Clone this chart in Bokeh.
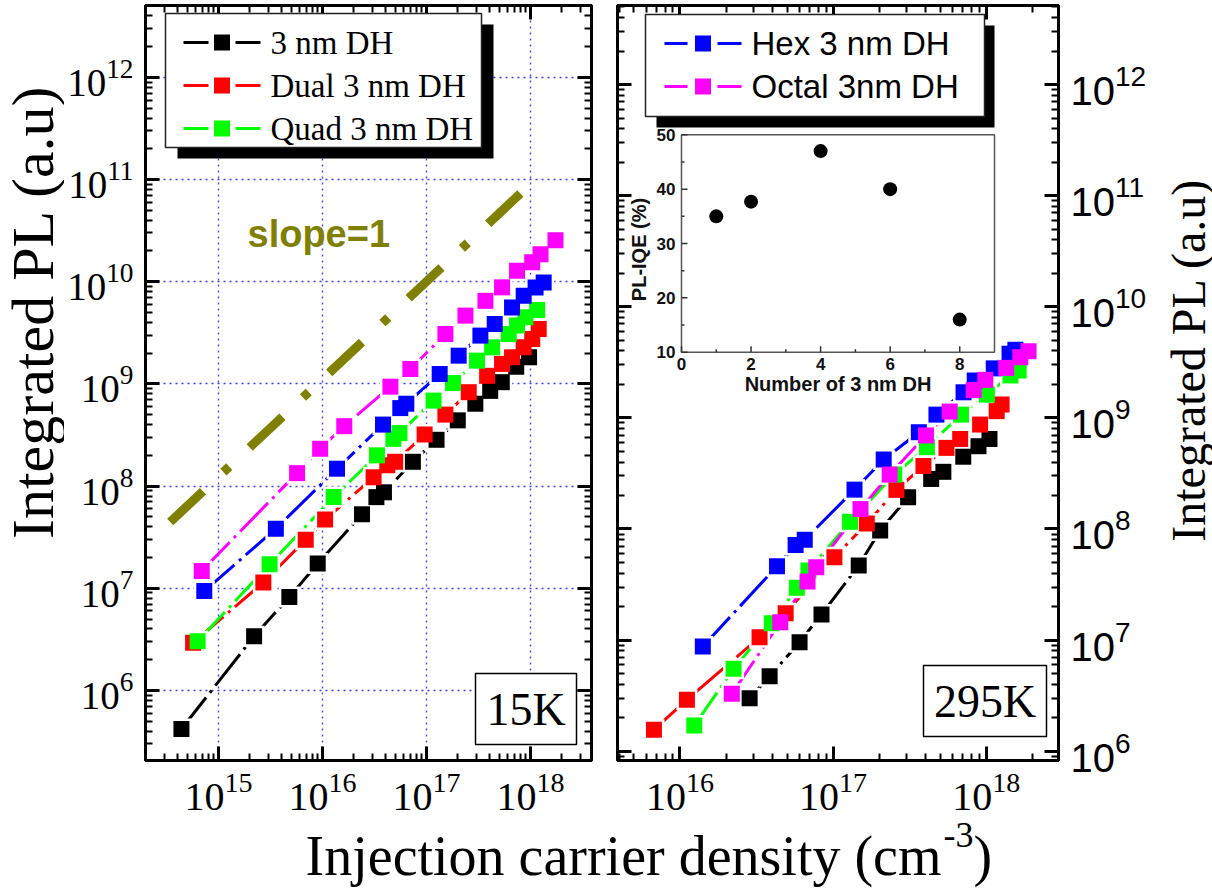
import numpy as np
from bokeh.plotting import figure
from bokeh.layouts import column, row
from bokeh.models import (Range1d, LogAxis, FixedTicker, BoxAnnotation, Label,
                          CustomJSTickFormatter, LinearScale)
from bokeh.core.properties import value
from bokeh.embed import file_html
from bokeh.resources import INLINE

SERIF = "Liberation Serif"
SANS = "Liberation Sans"

# ---------------- 15 K : injection carrier density (cm^-3) vs integrated PL (a.u.)
single_15k_n = [4.4e14, 2.2e15, 4.8e15, 9.0e15, 2.4e16, 3.3e16, 3.9e16, 7.4e16, 1.25e17,
                2.0e17, 2.95e17, 4.1e17, 5.3e17, 7.3e17, 9.7e17]
single_15k_pl = [4.2e5, 3.4e6, 8.2e6, 1.75e7, 5.3e7, 7.8e7, 8.7e7, 1.73e8, 2.84e8,
                 4.4e8, 6.4e8, 8.55e8, 1.04e9, 1.47e9, 1.82e9]

dual_15k_n = [5.7e14, 2.7e15, 6.9e15, 1.06e16, 3.1e16, 4.2e16, 5.0e16, 9.6e16, 1.52e17,
              2.55e17, 3.83e17, 5.33e17, 6.65e17, 8.6e17, 1.04e18, 1.2e18]
dual_15k_pl = [2.94e6, 1.14e7, 2.99e7, 4.7e7, 1.22e8, 1.6e8, 1.73e8, 3.2e8, 5.01e8,
               8.3e8, 1.2e9, 1.57e9, 1.82e9, 2.28e9, 2.75e9, 3.44e9]

quad_15k_n = [6.3e14, 3.1e15, 1.28e16, 3.34e16, 4.8e16, 5.5e16, 1.17e17, 1.8e17, 3.06e17,
              4.28e17, 6.18e17, 7.43e17, 8.95e17, 1.16e18]
quad_15k_pl = [3.03e6, 1.72e7, 7.82e7, 2.0e8, 2.9e8, 3.3e8, 6.87e8, 1.02e9, 1.69e9,
               2.28e9, 3.08e9, 3.72e9, 4.48e9, 5.28e9]

hex_15k_n = [7.3e14, 3.56e15, 1.38e16, 3.82e16, 5.6e16, 6.4e16, 1.34e17, 2.04e17, 3.3e17,
             4.53e17, 6.65e17, 8.61e17, 1.12e18, 1.34e18]
hex_15k_pl = [9.4e6, 3.83e7, 1.48e8, 4.0e8, 5.8e8, 6.4e8, 1.25e9, 1.89e9, 2.97e9,
              3.86e9, 5.6e9, 7.3e9, 8.8e9, 9.8e9]

octal_15k_n = [6.9e14, 5.7e15, 9.5e15, 1.62e16, 4.5e16, 7.0e16, 1.52e17, 2.37e17, 3.69e17,
               5.33e17, 7.43e17, 1.04e18, 1.25e18, 1.74e18]
octal_15k_pl = [1.48e7, 1.34e8, 2.32e8, 3.86e8, 9.4e8, 1.4e9, 3.08e9, 4.66e9, 6.5e9,
                8.81e9, 1.28e10, 1.55e10, 1.86e10, 2.55e10]

# slope = 1 guide line
slope_n = [3.43e14, 8.0e17]
slope_pl = [4.45e7, 7.3e10]

# ---------------- 295 K
single_295k_n = [2.85e16, 3.85e16, 6.04e16, 8.4e16, 1.47e17, 2.03e17, 3.09e17, 4.37e17,
                 5.25e17, 7.08e17, 8.9e17, 1.05e18]
single_295k_pl = [3.0e6, 4.73e6, 9.57e6, 1.7e7, 4.69e7, 9.7e7, 1.93e8, 2.82e8,
                  3.27e8, 4.47e8, 5.56e8, 6.46e8]

dual_295k_n = [6.76e15, 1.11e16, 3.31e16, 4.9e16, 1.02e17, 1.66e17, 2.59e17, 3.89e17,
               5.5e17, 6.76e17, 9.12e17, 1.17e18, 1.26e18]
dual_295k_pl = [1.56e6, 2.9e6, 1.06e7, 1.74e7, 5.56e7, 1.12e8, 2.25e8, 3.69e8,
                5.37e8, 6.46e8, 8.71e8, 1.15e9, 1.32e9]

quad_295k_n = [1.24e16, 2.24e16, 3.98e16, 5.8e16, 6.9e16, 1.29e17, 2.51e17, 4.1e17,
               6.84e17, 1.01e18, 1.44e18, 1.63e18]
quad_295k_pl = [1.7e6, 5.52e6, 1.42e7, 2.96e7, 4.24e7, 1.16e8, 3.09e8, 5.45e8,
                1.07e9, 1.62e9, 2.41e9, 2.67e9]

hex_295k_n = [1.41e16, 4.3e16, 5.69e16, 6.53e16, 1.38e17, 2.14e17, 3.63e17, 4.73e17,
              7.11e17, 8.41e17, 1.12e18, 1.42e18, 1.55e18]
hex_295k_pl = [8.75e6, 4.62e7, 7.19e7, 8.0e7, 2.26e8, 4.22e8, 7.43e8, 1.07e9,
               1.7e9, 2.17e9, 2.79e9, 3.78e9, 4.1e9]

octal_295k_n = [2.18e16, 4.52e16, 6.81e16, 7.76e16, 1.51e17, 2.34e17, 4.04e17, 5.77e17,
                8.28e17, 9.86e17, 1.35e18, 1.67e18, 1.89e18]
octal_295k_pl = [3.28e6, 1.45e7, 3.37e7, 4.53e7, 1.51e8, 3.09e8, 6.95e8, 1.14e9,
                 1.78e9, 2.2e9, 2.82e9, 3.52e9, 3.98e9]

# ---------------- inset: PL internal quantum efficiency vs number of DH layers
dh_count = [1, 2, 4, 6, 8]
pl_iqe = [35.0, 37.7, 47.0, 40.0, 16.0]
inset_xticks = [0, 2, 4, 6, 8]
inset_xminor = [1, 3, 5, 7]
inset_yticks = [10, 20, 30, 40, 50]
inset_yminor = [15, 25, 35, 45]

Y_TITLE = "Integrated PL (a.u)"

BLACK, RED, GREEN, BLUE, MAGENTA = "#000000", "#ff0000", "#00ff00", "#0000ff", "#ff00ff"
OLIVE = "#808000"

FRAME_H = 755
TOP, BOTTOM = 5, 118
ROW_H = TOP + FRAME_H + BOTTOM


def decade_ticks(lo, hi):
    major = [10.0 ** e for e in range(lo, hi + 1)]
    minor = [m * 10.0 ** e for e in range(lo - 1, hi + 1) for m in range(2, 10)]
    return major, minor


def dress(ax, major, minor, show=True, font=SERIF, size="34px", standoff=12):
    ax.ticker = FixedTicker(ticks=major, minor_ticks=minor)
    ax.axis_line_width = 3
    ax.axis_line_color = "black"
    ax.major_tick_in = 14
    ax.major_tick_out = 0
    ax.minor_tick_in = 7
    ax.minor_tick_out = 0
    ax.major_tick_line_width = 3
    ax.minor_tick_line_width = 2
    if show:
        ax.major_label_text_font = font
        ax.major_label_text_font_size = size
        ax.major_label_text_color = "black"
        ax.major_label_standoff = standoff
    else:
        ax.formatter = CustomJSTickFormatter(code="return ''")
        ax.major_label_text_font_size = "1px"
        ax.major_label_standoff = 0


def panel(xr, yr, xdec, ydec, frame_w, border_l, border_r, y_side, y_font, y_size):
    p = figure(x_axis_type="log", y_axis_type="log",
               x_range=Range1d(*xr), y_range=Range1d(*yr),
               frame_width=frame_w, frame_height=FRAME_H,
               min_border_left=border_l, min_border_right=border_r,
               min_border_top=TOP, min_border_bottom=BOTTOM,
               y_axis_location=y_side, output_backend="svg", toolbar_location=None)
    p.background_fill_color = "white"
    p.border_fill_color = "white"
    p.outline_line_color = "black"
    p.outline_line_width = 3
    xmaj, xmin = decade_ticks(*xdec)
    ymaj, ymin = decade_ticks(*ydec)
    dress(p.xaxis[0], xmaj, xmin, size="40px", standoff=12)
    dress(p.yaxis[0], ymaj, ymin, font=y_font, size=y_size, standoff=12)
    p.add_layout(LogAxis(), "above")
    dress(p.above[0], xmaj, xmin, show=False)
    other = "right" if y_side == "left" else "left"
    p.add_layout(LogAxis(), other)
    dress(getattr(p, other)[0], ymaj, ymin, show=False)
    p.xgrid.ticker = FixedTicker(ticks=xmaj)
    p.ygrid.ticker = FixedTicker(ticks=ymaj)
    return p


def title_strip(width, cx, cy, size):
    """Narrow blank figure that carries a rotated y-axis title."""
    f = figure(width=width, height=ROW_H, x_range=Range1d(0, width), y_range=Range1d(0, ROW_H),
               x_axis_location=None, y_axis_location=None, min_border=0,
               output_backend="svg", toolbar_location=None)
    f.outline_line_color = None
    f.grid.visible = False
    f.text(x=[cx], y=[ROW_H - cy], text=[Y_TITLE], angle=np.pi / 2, text_align="center",
           text_baseline="middle", text_font=value(SERIF), text_font_size=size,
           text_color="black")
    return f


def draw_series(p, series):
    for n, pl, color in series:
        p.line(n, pl, line_color=color, line_width=3, line_dash="40 6 3 6")
    for n, pl, color in series:
        p.scatter(n, pl, marker="square", size=21, fill_color="white", line_color=None)
    for n, pl, color in series:
        p.scatter(n, pl, marker="square", size=16, fill_color=color, line_color=None)


def sbox(p, l, r, t, b, fill, line=None, lw=1.5):
    p.add_layout(BoxAnnotation(left=l, right=r, top=t, bottom=b,
                               left_units="screen", right_units="screen",
                               top_units="screen", bottom_units="screen",
                               fill_color=fill, fill_alpha=1.0,
                               line_color=line, line_width=lw, line_alpha=1.0))


def legend(p, box, shadow, rows, seg_a, seg_b, mark_c, text_x, font, size):
    sbox(p, *shadow, fill="black")
    sbox(p, *box, fill="white", line="#222222", lw=1.5)
    for y, color, text in rows:
        sbox(p, seg_a[0], seg_a[1], y + 1.5, y - 1.5, fill=color)
        sbox(p, seg_b[0], seg_b[1], y + 1.5, y - 1.5, fill=color)
        sbox(p, mark_c - 8, mark_c + 8, y + 8, y - 8, fill=color)
        p.add_layout(Label(x=text_x, y=y, x_units="screen", y_units="screen", text=text,
                           text_font=font, text_font_size=size, text_baseline="middle",
                           text_color="black"))


def temp_box(p, l, r, t, b, text):
    sbox(p, l, r, t, b, fill="white", line="black", lw=1.5)
    p.add_layout(Label(x=(l + r) / 2, y=(t + b) / 2, x_units="screen", y_units="screen",
                       text=text, text_font=SERIF, text_font_size="46px",
                       text_align="center", text_baseline="middle", text_color="black"))


# ================= 15 K panel
left = panel((10 ** 14.298, 10 ** 18.587), (10 ** 5.315, 10 ** 12.703), (15, 18), (6, 12),
             446, 78, 12, "left", SERIF, "39px")
for g in (left.xgrid[0], left.ygrid[0]):
    g.grid_line_color = "#3a3aff"
    g.grid_line_dash = "2 4"
    g.grid_line_width = 1.3

left.line(slope_n, slope_pl, line_color=OLIVE, line_width=9, line_dash="45 28 8 28",
          line_cap="butt")
draw_series(left, [(single_15k_n, single_15k_pl, BLACK),
                   (dual_15k_n, dual_15k_pl, RED),
                   (quad_15k_n, quad_15k_pl, GREEN),
                   (hex_15k_n, hex_15k_pl, BLUE),
                   (octal_15k_n, octal_15k_pl, MAGENTA)])

left.add_layout(Label(x=102, y=527, x_units="screen", y_units="screen", text="slope=1",
                      text_font=SANS, text_font_style="bold", text_font_size="38px",
                      text_color=OLIVE, text_baseline="middle"))
legend(left, box=(20, 336, 747, 613), shadow=(32, 348, 736, 602),
       rows=[(718, BLACK, "3 nm DH"), (675, RED, "Dual 3 nm DH"), (632, GREEN, "Quad 3 nm DH")],
       seg_a=(38, 63), seg_b=(90, 115), mark_c=76.5, text_x=125, font=SERIF, size="33px")
temp_box(left, 330, 431, 87, 16, "15K")

# ================= 295 K panel
right = panel((10 ** 15.592, 10 ** 18.472), (10 ** 5.916, 10 ** 12.712), (16, 18), (6, 12),
              441, 14, 103, "right", SANS, "40px")
right.xgrid.visible = False
right.ygrid.visible = False

# inset axes share the frame through linear extra ranges
right.extra_x_ranges = {"inset": Range1d(-1.840, 10.840)}
right.extra_y_ranges = {"inset": Range1d(-65.12, 73.79)}
right.extra_x_scales = {"inset": LinearScale()}
right.extra_y_scales = {"inset": LinearScale()}
ix_per_px = (10.840 + 1.840) / 441
iy_per_px = (73.79 + 65.12) / FRAME_H
kw = dict(x_range_name="inset", y_range_name="inset")
ix0, ix1, iy0, iy1 = inset_xticks[0], 9, inset_yticks[0], inset_yticks[-1]
right.quad(left=ix0, right=ix1, bottom=iy0, top=iy1, fill_color="white",
           line_color="#555555", line_width=1.5, **kw)
right.segment(x0=inset_xticks, y0=[iy0] * 5, x1=inset_xticks, y1=[iy0 + 6 * iy_per_px] * 5,
              line_color="#333333", line_width=1.5, **kw)
right.segment(x0=inset_xminor, y0=[iy0] * 4, x1=inset_xminor, y1=[iy0 + 3 * iy_per_px] * 4,
              line_color="#333333", line_width=1.5, **kw)
right.segment(x0=[ix0] * 5, y0=inset_yticks, x1=[ix0 + 6 * ix_per_px] * 5, y1=inset_yticks,
              line_color="#333333", line_width=1.5, **kw)
right.segment(x0=[ix0] * 4, y0=inset_yminor, x1=[ix0 + 3 * ix_per_px] * 4, y1=inset_yminor,
              line_color="#333333", line_width=1.5, **kw)
right.text(x=inset_xticks, y=[iy0] * 5, text=[str(v) for v in inset_xticks], y_offset=12,
           text_font=value(SANS), text_font_style="bold", text_font_size="17px",
           text_align="center", text_baseline="middle", text_color="#111111", **kw)
right.text(x=[ix0] * 5, y=inset_yticks, text=[str(v) for v in inset_yticks], x_offset=-6,
           text_font=value(SANS), text_font_style="bold", text_font_size="17px",
           text_align="right", text_baseline="middle", text_color="#111111", **kw)
right.text(x=[(ix0 + ix1) / 2], y=[iy0], text=["Number of 3 nm DH"], y_offset=32,
           text_font=value(SANS), text_font_style="bold", text_font_size="20px",
           text_align="center", text_baseline="middle", text_color="#111111", **kw)
right.text(x=[ix0], y=[(iy0 + iy1) / 2], text=["PL-IQE (%)"], x_offset=-42, y_offset=6,
           angle=np.pi / 2, text_font=value(SANS), text_font_style="bold",
           text_font_size="20px", text_align="center", text_baseline="middle",
           text_color="#111111", **kw)
right.scatter(dh_count, pl_iqe, marker="circle", size=14, fill_color="black",
              line_color=None, **kw)

draw_series(right, [(single_295k_n, single_295k_pl, BLACK),
                    (dual_295k_n, dual_295k_pl, RED),
                    (quad_295k_n, quad_295k_pl, GREEN),
                    (hex_295k_n, hex_295k_pl, BLUE),
                    (octal_295k_n, octal_295k_pl, MAGENTA)])

legend(right, box=(28, 367, 746, 644), shadow=(39, 377, 735, 633),
       rows=[(717, BLUE, "Hex 3 nm DH"), (674, MAGENTA, "Octal 3nm DH")],
       seg_a=(47, 70), seg_b=(100, 124), mark_c=85.5, text_x=134, font=SANS, size="33px")
temp_box(right, 306, 429, 95, 24, "295K")

# ================= y-axis titles in their own strips
ytitle_left = title_strip(64, 32, 356, "60px")
ytitle_right = title_strip(54, 27, 412, "48px")

# ================= shared x-axis title, laid over the bottom margin of both panels
XLAB_H = 128
xlab = figure(width=1212, height=XLAB_H, x_range=Range1d(0, 1212), y_range=Range1d(0, XLAB_H),
              x_axis_location=None, y_axis_location=None, min_border=0,
              output_backend="svg", toolbar_location=None)
xlab.margin = (-BOTTOM, 0, 0, 0)
xlab.outline_line_color = None
xlab.background_fill_alpha = 0
xlab.border_fill_alpha = 0
xlab.grid.visible = False
xlab.text(x=[941], y=[33], text=["Injection carrier density (cm"], text_align="right",
          text_baseline="alphabetic", text_font=value(SERIF), text_font_size="56px",
          text_color="black")
xlab.text(x=[943], y=[54], text=["-3"], text_align="left", text_baseline="alphabetic",
          text_font=value(SERIF), text_font_size="36px", text_color="black")
xlab.text(x=[973], y=[33], text=[")"], text_align="left", text_baseline="alphabetic",
          text_font=value(SERIF), text_font_size="56px", text_color="black")

layout = column(row(ytitle_left, left, right, ytitle_right), xlab)
open("out.html", "w").write(file_html(layout, INLINE, "Integrated PL"))
